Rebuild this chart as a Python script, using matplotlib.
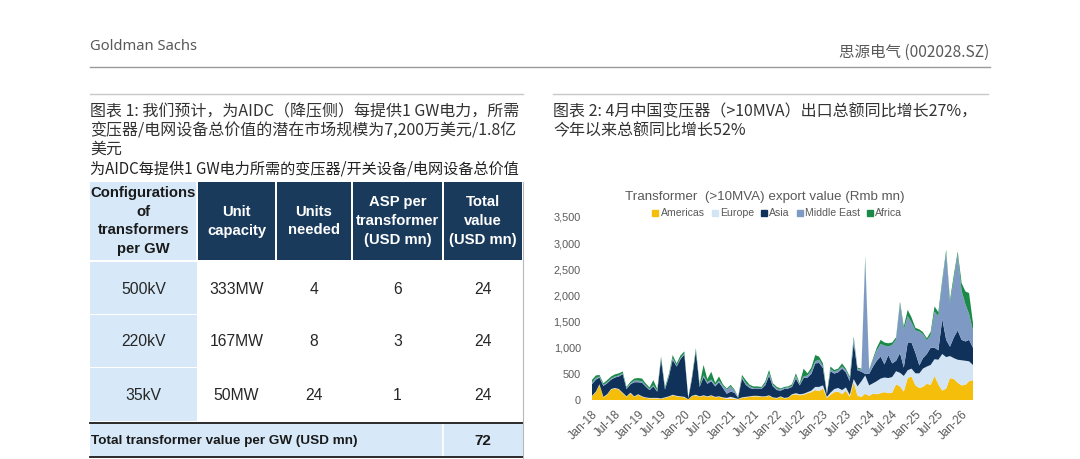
import matplotlib
matplotlib.use("Agg")
import matplotlib.pyplot as plt
from matplotlib.patches import Rectangle
from matplotlib.lines import Line2D
from matplotlib.ticker import FuncFormatter
import pandas as pd

W, H = 1080, 459
CJK = ['Noto Sans CJK SC', 'DejaVu Sans']
ARIAL = ['Liberation Sans', 'DejaVu Sans']

# ---- chart data: monthly export value by region (Rmb mn)
months = pd.date_range('2018-01-01', periods=100, freq='MS')

americas = [70, 150, 290, 50, 100, 200, 220, 200, 130, 60, 130, 60,
            100, 60, 40, 30, 30, 30, 20, 40, 60, 90, 70, 60,
            50, 10, 70, 90, 60, 80, 60, 80, 50, 60, 40, 20,
            30, 20, 10, 40, 50, 60, 70, 70, 60, 60, 80, 40,
            30, 60, 30, 40, 100, 110, 90, 100, 130, 150, 190, 170,
            220, 40, 100, 150, 160, 110, 180, 60, 340, 80, 60, 120,
            80, 120, 110, 130, 150, 130, 140, 300, 260, 160, 420, 450,
            280, 230, 250, 310, 290, 460, 300, 180, 220, 420, 400, 330,
            280, 290, 360, 380]
europe = [10, 10, 10, 10, 10, 10, 10, 10, 10, 10, 10, 10,
          10, 10, 10, 10, 10, 10, 10, 10, 10, 10, 10, 10,
          10, 5, 10, 10, 10, 10, 10, 10, 10, 10, 10, 20,
          30, 20, 10, 10, 10, 10, 10, 10, 10, 10, 10, 10,
          10, 10, 10, 10, 10, 20, 20, 20, 20, 30, 60, 80,
          60, 20, 40, 60, 70, 80, 60, 40, 60, 180, 300, 350,
          200, 200, 250, 280, 280, 290, 300, 250, 260, 300, 150, 150,
          230, 280, 350, 330, 380, 320, 470, 700, 600, 420, 400, 440,
          480, 460, 380, 290]
asia = [225, 230, 130, 210, 210, 180, 200, 240, 355, 140, 160, 270,
        230, 260, 210, 150, 220, 120, 750, 150, 380, 670, 560, 710,
        810, 15, 320, 830, 180, 350, 240, 270, 200, 270, 180, 80,
        100, 100, 20, 360, 230, 160, 130, 130, 140, 210, 375, 210,
        150, 110, 170, 170, 140, 280, 170, 300, 280, 320, 450, 460,
        330, 50, 410, 295, 300, 410, 290, 260, 695, 310, 180, 30,
        220, 320, 390, 420, 250, 440, 260, 200, 380, 160, 530, 500,
        390, 150, 200, 240, 330, 220, 180, 670, 330, 180, 400, 560,
        390, 370, 410, 330]
middle_east = [30, 30, 20, 20, 20, 20, 20, 20, 20, 20, 20, 30,
               30, 30, 20, 20, 20, 20, 20, 20, 20, 30, 20, 20,
               20, 5, 20, 20, 20, 30, 30, 30, 30, 30, 40, 80,
               100, 40, 10, 30, 30, 30, 20, 20, 20, 30, 50, 30,
               30, 20, 20, 20, 20, 50, 20, 30, 40, 60, 40, 60,
               40, 10, 40, 40, 40, 40, 40, 60, 80, 30, 40, 2200,
               60, 130, 200, 240, 360, 165, 350, 410, 940, 725, 505, 380,
               430, 650, 460, 260, 240, 690, 650, 690, 1675, 835, 1120, 1460,
               935, 705, 495, 320]
africa = [50, 50, 30, 30, 40, 40, 40, 40, 30, 20, 30, 40,
          50, 50, 40, 30, 100, 30, 30, 30, 30, 60, 40, 50,
          40, 5, 30, 40, 30, 200, 60, 150, 40, 80, 30, 20,
          30, 20, 10, 40, 60, 30, 30, 30, 20, 40, 60, 30,
          30, 20, 20, 20, 30, 50, 20, 150, 40, 60, 120, 60,
          50, 10, 50, 30, 30, 60, 30, 30, 40, 20, 20, 50,
          20, 30, 50, 80, 60, 60, 50, 40, 40, 60, 120, 100,
          50, 40, 40, 40, 60, 100, 80, 60, 50, 60, 80, 50,
          150, 250, 400, 150]

regions = ['Americas', 'Europe', 'Asia', 'Middle East', 'Africa']
region_colors = ['#F5BE0B', '#D3E4F5', '#10325A', '#7E9AC4', '#1B8A49']

# ---- table data
table_header = ['Configurations\nof\ntransformers\nper GW', 'Unit\ncapacity',
                'Units\nneeded', 'ASP per\ntransformer\n(USD mn)', 'Total\nvalue\n(USD mn)']
voltages = ['500kV', '220kV', '35kV']
unit_capacity = ['333MW', '167MW', '50MW']
units_needed = [4, 8, 24]
asp_per_unit = [6, 3, 1]
total_value = [24, 24, 24]
total_label = 'Total transformer value per GW (USD mn)'
total_sum = 72

title1 = ['图表 1: 我们预计，为AIDC（降压侧）每提供1 GW电力，所需',
          '变压器/电网设备总价值的潜在市场规模为7,200万美元/1.8亿',
          '美元']
subtitle1 = '为AIDC每提供1 GW电力所需的变压器/开关设备/电网设备总价值'
title2 = ['图表 2: 4月中国变压器（>10MVA）出口总额同比增长27%，',
          '今年以来总额同比增长52%']

fig = plt.figure(figsize=(W / 100, H / 100), dpi=100)
page = fig.add_axes([0, 0, 1, 1])
page.set_xlim(0, W)
page.set_ylim(H, 0)
page.axis('off')

# page header
page.text(90, 47, 'Goldman Sachs', fontsize=10.6, color='#595959',
          family=['Noto Sans', 'DejaVu Sans'], va='center')
page.text(989, 52, '思源电气 (002028.SZ)', fontsize=11.2, color='#595959',
          family=CJK, va='center', ha='right')
page.plot([90, 990], [67, 67], color='#9a9a9a', lw=1)
page.plot([90, 523], [93.5, 93.5], color='#c8c8c8', lw=1)
page.plot([553, 988], [93.5, 93.5], color='#c8c8c8', lw=1)

for i, line in enumerate(title1):
    page.text(90, 112 + i * 18.8, line, fontsize=11.5, color='#333333',
              family=CJK, va='center')
page.text(90, 169, subtitle1, fontsize=10.9, color='#222222', family=CJK, va='center')
for i, line in enumerate(title2):
    page.text(553, 112 + i * 18.8, line, fontsize=11.5, color='#333333',
              family=CJK, va='center')

# ---- table
col_x = [90, 197, 276, 352, 443, 523]
hdr_top, hdr_bot = 182, 260
row_y = [262, 315, 368, 422]
light = '#D7E9F8'
navy = '#1A3A5C'

for j, label in enumerate(table_header):
    x0 = col_x[j] + (1 if j > 0 else 0)
    x1 = col_x[j + 1] - 1
    page.add_patch(Rectangle((x0, hdr_top), x1 - x0, hdr_bot - hdr_top,
                             facecolor=light if j == 0 else navy, lw=0))
    lines = label.split('\n')
    cx = (col_x[j] + col_x[j + 1]) / 2
    y0 = (hdr_top + hdr_bot) / 2 - (len(lines) - 1) * 19 / 2
    for k, ln in enumerate(lines):
        page.text(cx, y0 + k * 19, ln, ha='center', va='center', fontsize=10.7,
                  fontweight='bold', family=ARIAL,
                  color='#1a1a1a' if j == 0 else 'white')

for i in range(len(voltages)):
    top, bot = row_y[i], row_y[i + 1] - 1
    page.add_patch(Rectangle((col_x[0], top), col_x[1] - col_x[0], bot - top,
                             facecolor=light, lw=0))
    cy = (top + bot) / 2 + 1
    cells = [voltages[i], unit_capacity[i], units_needed[i], asp_per_unit[i], total_value[i]]
    for j, val in enumerate(cells):
        page.text((col_x[j] + col_x[j + 1]) / 2, cy, str(val), ha='center', va='center',
                  fontsize=11.3, family=ARIAL, color='#262626')

page.add_patch(Rectangle((col_x[0], 423), col_x[-1] - col_x[0], 34, facecolor=light, lw=0))
page.plot([col_x[4], col_x[4]], [423, 457], color='white', lw=1.2)
page.plot([col_x[0], col_x[-1]], [422.5, 422.5], color='#1a1a1a', lw=1.3)
page.plot([col_x[0], col_x[-1]], [457.3, 457.3], color='#1a1a1a', lw=1.3)
page.plot([col_x[-1], col_x[-1]], [182, 459], color='#b8b8b8', lw=0.8)
page.text(91, 441, total_label, ha='left', va='center', fontsize=9.7,
          fontweight='bold', family=ARIAL, color='#1a1a1a')
page.text((col_x[4] + col_x[5]) / 2, 441, str(total_sum), ha='center', va='center',
          fontsize=11, fontweight='bold', family=ARIAL, color='#1a1a1a')

# ---- stacked area chart
page.text(765, 197, 'Transformer  (>10MVA) export value (Rmb mn)', ha='center', va='center',
          fontsize=9.6, color='#595959', family=ARIAL)

ax = fig.add_axes([592 / W, 1 - 400 / H, 381 / W, 183 / H])
ax.stackplot(months, americas, europe, asia, middle_east, africa,
             colors=region_colors, labels=regions, lw=0)
ax.set_xlim(months[0], months[-1])
ax.set_ylim(0, 3500)
ax.set_yticks(range(0, 3501, 500))
ax.yaxis.set_major_formatter(FuncFormatter(lambda v, p: f'{int(v):,}'))
tick_dates = months[::6]
ax.set_xticks(tick_dates)
ax.set_xticklabels([d.strftime('%b-%y') for d in tick_dates], rotation=45,
                   ha='right', rotation_mode='anchor')
for s in ax.spines.values():
    s.set_visible(False)
ax.tick_params(axis='y', length=0, labelsize=7.8, labelcolor='#595959', pad=8)
ax.tick_params(axis='x', length=0, labelsize=8.4, labelcolor='#595959', pad=6)
for lab in ax.get_xticklabels() + ax.get_yticklabels():
    lab.set_family(ARIAL)
ax.patch.set_alpha(0)

handles = [Line2D([], [], marker='s', ls='', color=c, markersize=4) for c in region_colors]
fig.legend(handles, regions, loc='center', bbox_to_anchor=(777 / W, 1 - 213.5 / H),
           ncol=5, frameon=False, handlelength=0.7, handletextpad=0.15,
           columnspacing=0.6, prop={'family': ARIAL, 'size': 7.6}, labelcolor='#595959')

fig.savefig('out.png', dpi=100)
